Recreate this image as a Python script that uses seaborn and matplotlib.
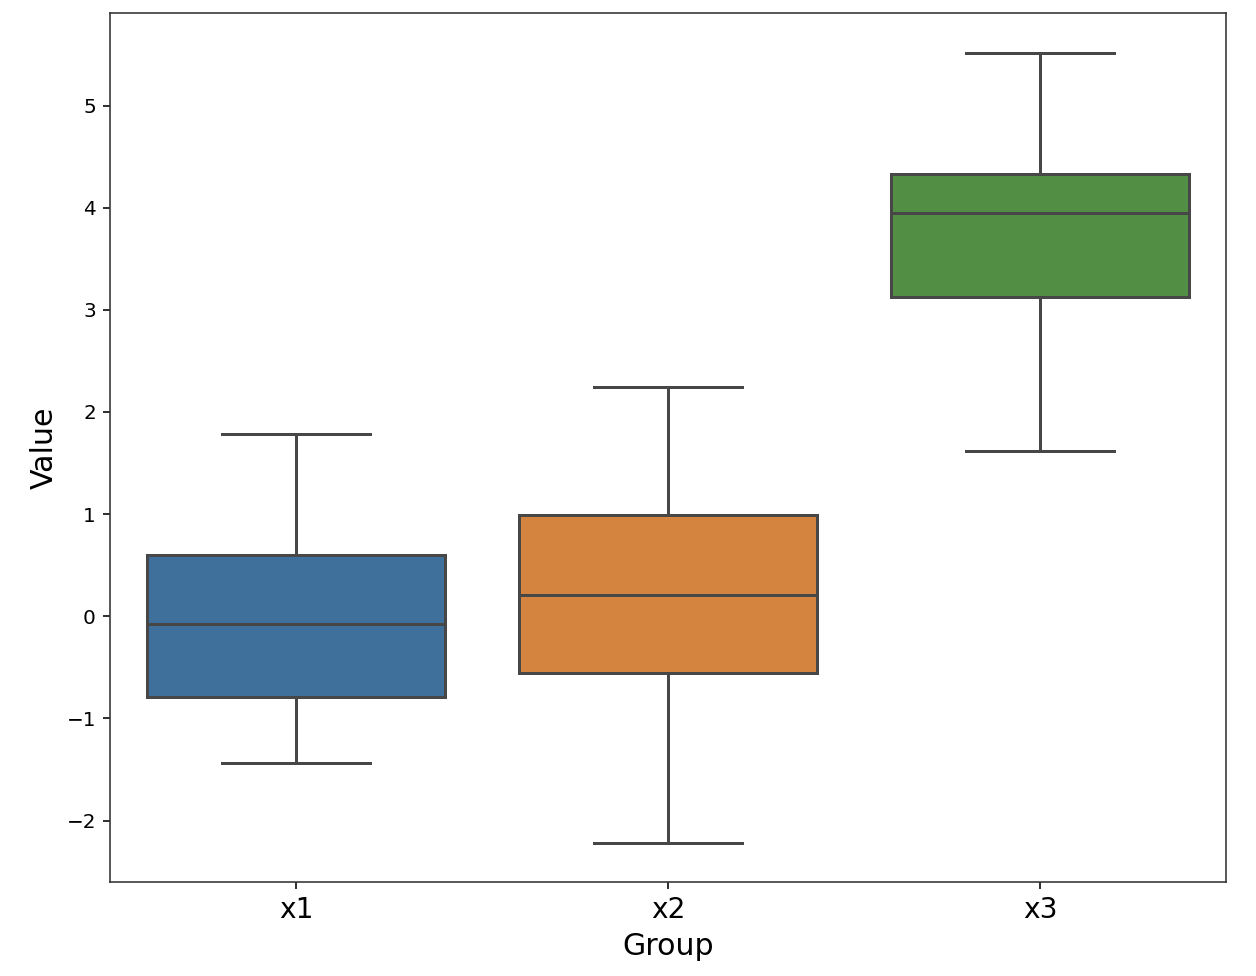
import numpy as np
import pandas as pd
import matplotlib
matplotlib.use("Agg")
import matplotlib.pyplot as plt
import seaborn as sns

# Five-number summaries (min, Q1, median, Q3, max)
groups = ["x1", "x2", "x3"]
x1_values = [-1.432, -0.794, -0.076, 0.598, 1.784]
x2_values = [-2.214, -0.559, 0.210, 0.992, 2.247]
x3_values = [1.618, 3.126, 3.948, 4.333, 5.519]
box_colors = ["#3f6f9b", "#d4843f", "#528f45"]

df = pd.DataFrame({
    "Group": ["x1"] * len(x1_values) + ["x2"] * len(x2_values) + ["x3"] * len(x3_values),
    "Value": x1_values + x2_values + x3_values,
})

plt.rcParams["font.family"] = ["DejaVu Sans"]
fig = plt.figure(figsize=(1256 / 144, 976 / 144), dpi=144)
ax = fig.add_axes([110 / 1256, 1 - 882 / 976, (1226 - 110) / 1256, (882 - 13) / 976])

sns.boxplot(data=df, x="Group", y="Value", hue="Group", order=groups,
            palette=box_colors, saturation=1,
            width=0.8, linewidth=1.5, linecolor="#474747", legend=False, ax=ax)

for line in ax.lines:
    line.set_color("#474747")

ax.set_xlabel("Group", fontsize=15)
ax.set_ylabel("Value", fontsize=15)
ax.tick_params(axis="x", labelsize=14)
ax.tick_params(axis="y", labelsize=10)
for s in ax.spines.values():
    s.set_color("#333333")

fig.savefig("out.png", dpi=144)
